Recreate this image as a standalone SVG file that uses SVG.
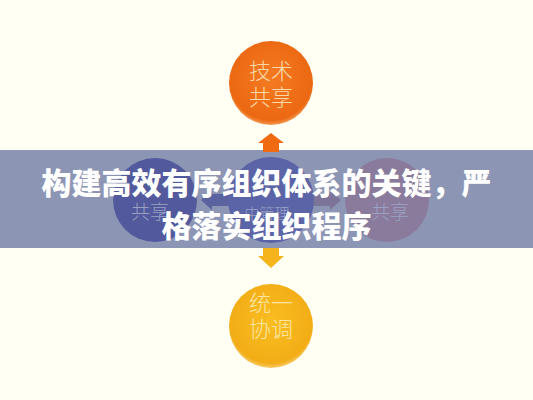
<svg xmlns="http://www.w3.org/2000/svg" width="533" height="400" viewBox="0 0 533 400">
<style>
.lbl{font-family:"Noto Sans CJK SC","Noto Sans CJK JP",sans-serif;font-size:22px;font-weight:300;text-anchor:middle}
.faint{font-family:"Noto Sans CJK SC",sans-serif;font-size:19px;font-weight:300;text-anchor:middle;fill:#9aa1c4}
.title{font-family:"Noto Sans CJK SC","Noto Sans CJK JP",sans-serif;font-size:30px;font-weight:900;fill:#ffffff;text-anchor:middle}
</style>
<defs>
<radialGradient id="gOrange" cx="0.5" cy="0.45" r="0.55">
<stop offset="0" stop-color="#f47b22"/><stop offset="0.9" stop-color="#ec6812"/><stop offset="1" stop-color="#f39a55"/>
</radialGradient>
<radialGradient id="gYellow" cx="0.5" cy="0.45" r="0.55">
<stop offset="0" stop-color="#f9bd22"/><stop offset="0.9" stop-color="#f3ad16"/><stop offset="1" stop-color="#f7cc6a"/>
</radialGradient>
</defs>
<rect width="533" height="400" fill="#fffff3"/>
<rect x="0" y="150" width="533" height="98" fill="#8d95b5"/>
<g id="connectors">
<path d="M271,133 L284,143 L279,143 L279,152 L263,152 L263,143 L258,143 Z" fill="#f06a12"/>
<path d="M263,248 L279,248 L279,256 L284,256 L271,268 L258,256 L263,256 Z" fill="#f6b41c"/>
<path d="M229,194 L212,194 L212,190 L201,200 L212,210 L212,206 L229,206 Z" fill="#5a62a0"/>
<path d="M313,194 L330,194 L330,190 L341,200 L330,210 L330,206 L313,206 Z" fill="#7d7499"/>
</g>
<g id="node-top">
<circle cx="271" cy="83" r="42" fill="url(#gOrange)"/>
<text class="lbl" x="271" y="79" fill="#f8d9a8">技术</text>
<text class="lbl" x="271" y="105" fill="#f8d9a8">共享</text>
</g>
<g id="node-left">
<circle cx="155" cy="200" r="42" fill="#525a9d"/>
<text class="faint" x="150" y="219">共享</text>
</g>
<g id="node-center">
<circle cx="271" cy="200" r="43" fill="#5b64a6"/>
<text class="faint" x="267" y="219" style="font-size:15px">中管理</text>
</g>
<g id="node-right">
<circle cx="387" cy="200" r="42" fill="#8a7b9c"/>
<text class="faint" x="390" y="219" fill="#b0a6c0">共享</text>
</g>
<g id="node-bottom">
<circle cx="271" cy="326" r="42" fill="url(#gYellow)"/>
<text class="lbl" x="271" y="311" fill="#fbe6a0">统一</text>
<text class="lbl" x="271" y="337" fill="#fbe6a0">协调</text>
</g>
<g id="title">
<text class="title" x="266.5" y="194">构建高效有序组织体系的关键，严</text>
<text class="title" x="266.5" y="237">格落实组织程序</text>
</g>
</svg>
